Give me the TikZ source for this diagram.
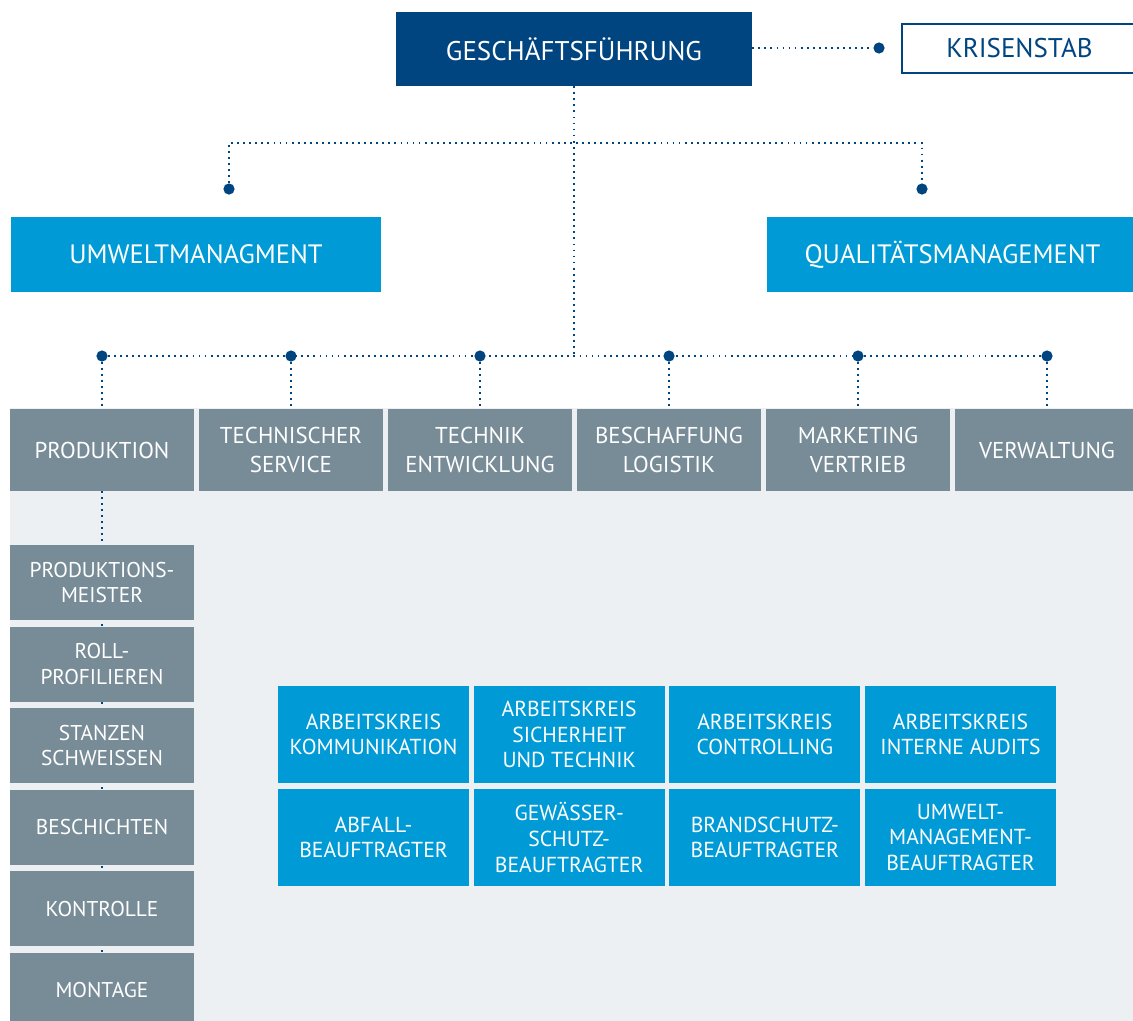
\documentclass[tikz,border=0pt]{standalone}
\usepackage{fontspec}
\setmainfont{PT Sans}
\usetikzlibrary{backgrounds}

\definecolor{gfblue}{RGB}{0,69,127}
\definecolor{qmblue}{RGB}{0,155,214}
\definecolor{deptgray}{RGB}{120,140,152}
\definecolor{panelgray}{RGB}{236,240,243}

\tikzset{
    box/.style={inner sep=0pt, text=white, align=center},
    head/.style={box, fill=gfblue, minimum width=8.9cm, minimum height=1.85cm,
        font=\fontsize{19.2}{23}\selectfont},
    staff/.style={box, fill=qmblue, minimum width=9.25cm, minimum height=1.875cm,
        font=\fontsize{18.9}{23}\selectfont},
    dept/.style={box, fill=deptgray, minimum width=4.6cm, minimum height=2.025cm,
        font=\fontsize{16.3}{20.2}\selectfont},
    substep/.style={box, fill=deptgray, minimum width=4.6cm, minimum height=1.875cm,
        font=\fontsize{15.2}{18}\selectfont},
    circle box/.style={box, fill=qmblue, minimum width=4.775cm, minimum height=2.4cm,
        font=\fontsize{15.4}{18.3}\selectfont},
    dot/.style={circle, fill=gfblue, inner sep=0pt, minimum size=0.28cm},
    link/.style={gfblue, line width=1.3pt, dash pattern=on 1.3pt off 3pt},
}

\begin{document}
\begin{tikzpicture}[x=0.025cm, y=-0.025cm]
        \useasboundingbox (0,0) rectangle (1133,1021);
        % light panel behind the departments
        \begin{scope}[on background layer]
            \fill[panelgray] (10,408) rectangle (1140,1030);
        \end{scope}

        % management
        \node[head] (gf) at (574,49) {GESCHÄFTSFÜHRUNG};
        \node[box, draw=gfblue, line width=1.4pt, fill=white, text=gfblue,
            minimum width=5.875cm, minimum height=1.225cm,
            font=\fontsize{19.2}{23}\selectfont] (krisen) at (1019.5,48.5) {KRISENSTAB};
        \node[dot] (dkrisen) at (879,48) {};
        \draw[link] (gf.east |- dkrisen) -- (dkrisen);

        \node[staff] (umwelt) at (196,254.5) {UMWELTMANAGMENT};
        \node[staff] (quali) at (952.5,254.5) {QUALITÄTSMANAGEMENT};
        \node[dot] (dumwelt) at (229,189) {};
        \node[dot] (dquali) at (922,189) {};
        \coordinate (bus) at (574,143);
        \draw[link] (dumwelt) -- (dumwelt |- bus) -- (dquali |- bus) -- (dquali);

        % departments
        \foreach \n/\t [count=\i from 0] in {prod/PRODUKTION,
                tserv/{TECHNISCHER\\SERVICE}, tentw/{TECHNIK\\ENTWICKLUNG},
                logistik/{BESCHAFFUNG\\LOGISTIK}, vertrieb/{MARKETING\\VERTRIEB},
                verw/VERWALTUNG} {
            \node[dept] (\n) at (102+189*\i,450) {\t};
            \node[dot] (d\n) at (102+189*\i,356) {};
            \draw[link] (d\n) -- (\n);
        }
        \draw[link] (dprod) -- (dverw);
        \draw[link] (gf) -- (gf |- dprod);

        % production steps
        \foreach \n/\t [count=\i from 0] in {pm/{PRODUKTIONS-\\MEISTER},
                roll/{ROLL-\\PROFILIEREN}, stanz/{STANZEN\\SCHWEISSEN},
                besch/BESCHICHTEN, kontr/KONTROLLE, mont/MONTAGE}
            \node[substep] (\n) at (102,582.5+81.6*\i) {\t};
        \begin{scope}[on background layer]
            \draw[link] (prod) -- (mont);
        \end{scope}

        % working groups and officers
        \foreach \n/\t [count=\i from 0] in {kom/{ARBEITSKREIS\\KOMMUNIKATION},
                sich/{ARBEITSKREIS\\SICHERHEIT\\UND TECHNIK},
                contr/{ARBEITSKREIS\\CONTROLLING},
                audit/{ARBEITSKREIS\\INTERNE AUDITS}}
            \node[circle box] (\n) at (373.5+195.67*\i,734.5) {\t};
        \foreach \n/\t [count=\i from 0] in {abfall/{ABFALL-\\BEAUFTRAGTER},
                gewaesser/{GEWÄSSER-\\SCHUTZ-\\BEAUFTRAGTER},
                brand/{BRANDSCHUTZ-\\BEAUFTRAGTER},
                umb/{UMWELT-\\MANAGEMENT-\\BEAUFTRAGTER}}
            \node[circle box] (\n) at (373.5+195.67*\i,837.5) {\t};
    \end{tikzpicture}
\end{document}
